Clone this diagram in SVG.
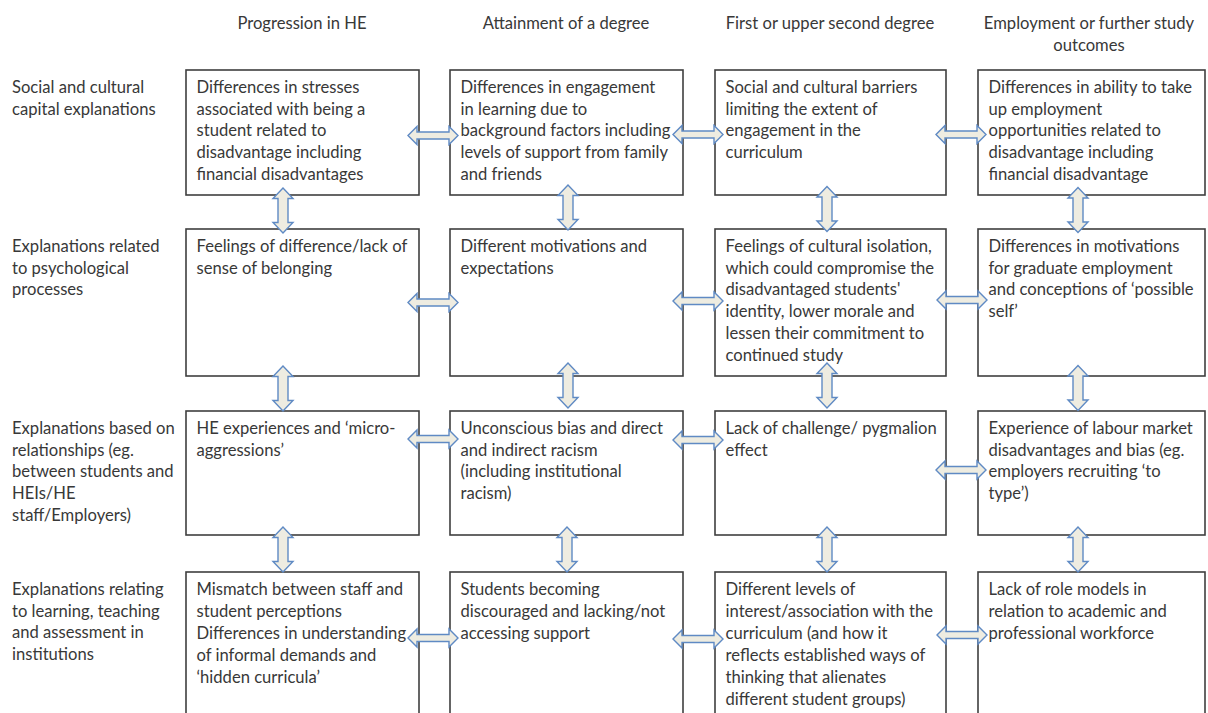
<svg xmlns="http://www.w3.org/2000/svg" xmlns:xlink="http://www.w3.org/1999/xlink" width="1208" height="713" viewBox="0 0 1208 713">
<style>
  text { font-family: Lato, "Open Sans", sans-serif; font-size: 16.6px; fill: #383838; }
  .hdr { text-anchor: middle; }
  .box { fill: #ffffff; stroke: #3f3f3f; stroke-width: 1.6; }
  .arr { fill: #eeece1; stroke: #5f8ac4; stroke-width: 1.4; stroke-linejoin: miter; }
</style>
<defs>
  <path id="ha" d="M-25,0 L-16,-9 L-16,-3.5 L16,-3.5 L16,-9 L25,0 L16,9 L16,3.5 L-16,3.5 L-16,9 Z"/>
  <path id="va" d="M0,-22.5 L-10,-12 L-5,-12 L-5,12 L-10,12 L0,22.5 L10,12 L5,12 L5,-12 L10,-12 Z"/>
</defs>
<rect width="1208" height="713" fill="#ffffff"/>

<g id="headers">
  <text class="hdr" x="302" y="29">Progression in HE</text>
  <text class="hdr" x="566" y="29">Attainment of a degree</text>
  <text class="hdr" x="830" y="29">First or upper second degree</text>
  <text class="hdr" x="1089" y="29">Employment or further study</text>
  <text class="hdr" x="1089" y="51">outcomes</text>
</g>

<g id="row-labels">
  <text x="12" y="93"><tspan x="12">Social and cultural</tspan><tspan x="12" dy="21.7">capital explanations</tspan></text>
  <text x="12" y="252"><tspan x="12">Explanations related</tspan><tspan x="12" dy="21.7">to psychological</tspan><tspan x="12" dy="21.7">processes</tspan></text>
  <text x="12" y="434"><tspan x="12">Explanations based on</tspan><tspan x="12" dy="21.7">relationships (eg.</tspan><tspan x="12" dy="21.7">between students and</tspan><tspan x="12" dy="21.7">HEIs/HE</tspan><tspan x="12" dy="21.7">staff/Employers)</tspan></text>
  <text x="12" y="595"><tspan x="12">Explanations relating</tspan><tspan x="12" dy="21.7">to learning, teaching</tspan><tspan x="12" dy="21.7">and assessment in</tspan><tspan x="12" dy="21.7">institutions</tspan></text>
</g>

<!-- Row 1 -->
<g id="r1c1"><rect class="box" x="186" y="70" width="233" height="125"/>
  <text y="93"><tspan x="196.5">Differences in stresses</tspan><tspan x="196.5" dy="21.7">associated with being a</tspan><tspan x="196.5" dy="21.7">student related to</tspan><tspan x="196.5" dy="21.7">disadvantage including</tspan><tspan x="196.5" dy="21.7">financial disadvantages</tspan></text></g>
<g id="r1c2"><rect class="box" x="450" y="70" width="233" height="125"/>
  <text y="93"><tspan x="460.5">Differences in engagement</tspan><tspan x="460.5" dy="21.7">in learning due to</tspan><tspan x="460.5" dy="21.7">background factors including</tspan><tspan x="460.5" dy="21.7">levels of support from family</tspan><tspan x="460.5" dy="21.7">and friends</tspan></text></g>
<g id="r1c3"><rect class="box" x="715" y="70" width="231" height="125"/>
  <text y="93"><tspan x="725.5">Social and cultural barriers</tspan><tspan x="725.5" dy="21.7">limiting the extent of</tspan><tspan x="725.5" dy="21.7">engagement in the</tspan><tspan x="725.5" dy="21.7">curriculum</tspan></text></g>
<g id="r1c4"><rect class="box" x="978" y="70" width="227" height="125"/>
  <text y="93"><tspan x="988.5">Differences in ability to take</tspan><tspan x="988.5" dy="21.7">up employment</tspan><tspan x="988.5" dy="21.7">opportunities related to</tspan><tspan x="988.5" dy="21.7">disadvantage including</tspan><tspan x="988.5" dy="21.7">financial disadvantage</tspan></text></g>

<!-- Row 2 -->
<g id="r2c1"><rect class="box" x="186" y="229" width="233" height="147"/>
  <text y="252"><tspan x="196.5">Feelings of difference/lack of</tspan><tspan x="196.5" dy="21.7">sense of belonging</tspan></text></g>
<g id="r2c2"><rect class="box" x="450" y="229" width="233" height="147"/>
  <text y="252"><tspan x="460.5">Different motivations and</tspan><tspan x="460.5" dy="21.7">expectations</tspan></text></g>
<g id="r2c3"><rect class="box" x="715" y="229" width="231" height="147"/>
  <text y="252"><tspan x="725.5">Feelings of cultural isolation,</tspan><tspan x="725.5" dy="21.7">which could compromise the</tspan><tspan x="725.5" dy="21.7">disadvantaged students'</tspan><tspan x="725.5" dy="21.7">identity, lower morale and</tspan><tspan x="725.5" dy="21.7">lessen their commitment to</tspan><tspan x="725.5" dy="21.7">continued study</tspan></text></g>
<g id="r2c4"><rect class="box" x="978" y="229" width="227" height="147"/>
  <text y="252"><tspan x="988.5">Differences in motivations</tspan><tspan x="988.5" dy="21.7">for graduate employment</tspan><tspan x="988.5" dy="21.7">and conceptions of ‘possible</tspan><tspan x="988.5" dy="21.7">self’</tspan></text></g>

<!-- Row 3 -->
<g id="r3c1"><rect class="box" x="186" y="411" width="233" height="124"/>
  <text y="434"><tspan x="196.5">HE experiences and ‘micro-</tspan><tspan x="196.5" dy="21.7">aggressions’</tspan></text></g>
<g id="r3c2"><rect class="box" x="450" y="411" width="233" height="124"/>
  <text y="434"><tspan x="460.5">Unconscious bias and direct</tspan><tspan x="460.5" dy="21.7">and indirect racism</tspan><tspan x="460.5" dy="21.7">(including institutional</tspan><tspan x="460.5" dy="21.7">racism)</tspan></text></g>
<g id="r3c3"><rect class="box" x="715" y="411" width="231" height="124"/>
  <text y="434"><tspan x="725.5">Lack of challenge/ pygmalion</tspan><tspan x="725.5" dy="21.7">effect</tspan></text></g>
<g id="r3c4"><rect class="box" x="978" y="411" width="227" height="124"/>
  <text y="434"><tspan x="988.5">Experience of labour market</tspan><tspan x="988.5" dy="21.7">disadvantages and bias (eg.</tspan><tspan x="988.5" dy="21.7">employers recruiting ‘to</tspan><tspan x="988.5" dy="21.7">type’)</tspan></text></g>

<!-- Row 4 -->
<g id="r4c1"><rect class="box" x="186" y="572" width="233" height="200"/>
  <text y="595"><tspan x="196.5">Mismatch between staff and</tspan><tspan x="196.5" dy="22">student perceptions</tspan><tspan x="196.5" dy="22">Differences in understanding</tspan><tspan x="196.5" dy="22">of informal demands and</tspan><tspan x="196.5" dy="22">‘hidden curricula’</tspan></text></g>
<g id="r4c2"><rect class="box" x="450" y="572" width="233" height="200"/>
  <text y="595"><tspan x="460.5">Students becoming</tspan><tspan x="460.5" dy="22">discouraged and lacking/not</tspan><tspan x="460.5" dy="22">accessing support</tspan></text></g>
<g id="r4c3"><rect class="box" x="715" y="572" width="231" height="200"/>
  <text y="595"><tspan x="725.5">Different levels of</tspan><tspan x="725.5" dy="22">interest/association with the</tspan><tspan x="725.5" dy="22">curriculum (and how it</tspan><tspan x="725.5" dy="22">reflects established ways of</tspan><tspan x="725.5" dy="22">thinking that alienates</tspan><tspan x="725.5" dy="22">different student groups)</tspan></text></g>
<g id="r4c4"><rect class="box" x="978" y="572" width="227" height="200"/>
  <text y="595"><tspan x="988.5">Lack of role models in</tspan><tspan x="988.5" dy="22">relation to academic and</tspan><tspan x="988.5" dy="22">professional workforce</tspan></text></g>

<g id="connectors" class="arr">
  <!-- horizontal -->
  <use xlink:href="#ha" x="433" y="135.5"/>
  <use xlink:href="#ha" x="698" y="134.5"/>
  <use xlink:href="#ha" x="961" y="134.5"/>
  <use xlink:href="#ha" x="433" y="302.5"/>
  <use xlink:href="#ha" x="698" y="301"/>
  <use xlink:href="#ha" x="962" y="300"/>
  <use xlink:href="#ha" x="433" y="439"/>
  <use xlink:href="#ha" x="698" y="440"/>
  <use xlink:href="#ha" x="961" y="470"/>
  <use xlink:href="#ha" x="433" y="638"/>
  <use xlink:href="#ha" x="698" y="639"/>
  <use xlink:href="#ha" x="962" y="635"/>
  <!-- vertical -->
  <use xlink:href="#va" x="283" y="210.5"/>
  <use xlink:href="#va" x="568" y="207.5"/>
  <use xlink:href="#va" x="827" y="209"/>
  <use xlink:href="#va" x="1078" y="210"/>
  <use xlink:href="#va" x="283" y="388.5"/>
  <use xlink:href="#va" x="568" y="385.5"/>
  <use xlink:href="#va" x="827" y="385.5"/>
  <use xlink:href="#va" x="1078" y="388"/>
  <use xlink:href="#va" x="283" y="549.5"/>
  <use xlink:href="#va" x="567" y="549.5"/>
  <use xlink:href="#va" x="827" y="549.5"/>
  <use xlink:href="#va" x="1078" y="549.5"/>
</g>
</svg>
